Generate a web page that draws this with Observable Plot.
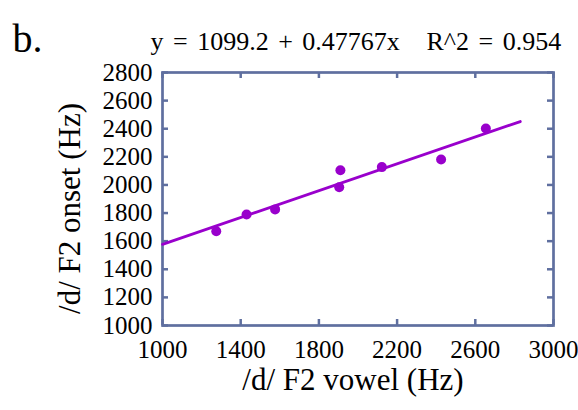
<!DOCTYPE html>
<html>
<head>
<meta charset="utf-8">
<script src="https://cdn.jsdelivr.net/npm/d3@7"></script>
<script src="https://cdn.jsdelivr.net/npm/@observablehq/plot@0.6"></script>
<style>
  html, body { margin: 0; padding: 0; background: #fff; }
  svg, svg text { font-family: "Liberation Serif", "Times New Roman", serif !important; }
</style>
</head>
<body>
<div id="chart"></div>
<script>
// Data
const vowelF2 = [1275, 1430, 1576, 1904, 1910, 2122, 2425, 2654];
const onsetF2 = [1671, 1790, 1826, 1984, 2105, 2127, 2181, 2402];
const intercept = 1099.2;
const slope = 0.47767;
const fitRange = [1000, 2830];
const xTicks = [1000, 1400, 1800, 2200, 2600, 3000];
const yTicks = [1000, 1200, 1400, 1600, 1800, 2000, 2200, 2400, 2600, 2800];
const panelLabel = "b.";
const eqText = "y = 1099.2 + 0.47767x";
const r2Text = "R^2 = 0.954";
const xLabel = "/d/ F2 vowel (Hz)";
const yLabel = "/d/ F2 onset (Hz)";

const points = vowelF2.map((x, i) => ({x, y: onsetF2[i]}));
const fit = fitRange.map(x => ({x, y: intercept + slope * x}));

const purple = "#9900cc";
const frameColor = "#5f6f9f";
const serif = "Liberation Serif, Times New Roman, serif";
const W = 578, H = 410;
const mL = 162, mR = 25, mT = 72, mB = 85;
const innerH = H - mT - mB, innerW = W - mL - mR;
const tickLen = 6;

const plot = Plot.plot({
  width: W,
  height: H,
  marginLeft: mL,
  marginRight: mR,
  marginTop: mT,
  marginBottom: mB,
  style: {fontFamily: serif, color: "#000", background: "#fff"},
  x: {domain: [1000, 3000], ticks: xTicks, label: null, tickFormat: "d"},
  y: {domain: [1000, 2800], ticks: yTicks, label: null, tickFormat: "d"},
  marks: [
    // inward ticks
    Plot.ruleX(xTicks, {stroke: frameColor, strokeWidth: 2.5, insetTop: innerH - tickLen}),
    Plot.ruleX(xTicks, {stroke: frameColor, strokeWidth: 2.5, insetBottom: innerH - tickLen}),
    Plot.ruleY(yTicks, {stroke: frameColor, strokeWidth: 2.5, insetRight: innerW - tickLen}),
    Plot.ruleY(yTicks, {stroke: frameColor, strokeWidth: 2.5, insetLeft: innerW - tickLen}),
    Plot.axisX(xTicks, {anchor: "bottom", tickSize: 0, tickPadding: 15, fontSize: 25, fontFamily: serif, fill: "#000", tickFormat: "d", label: null}),
    Plot.axisY(yTicks, {anchor: "left", tickSize: 0, tickPadding: 10, fontSize: 25, fontFamily: serif, fill: "#000", tickFormat: "d", label: null}),
    Plot.frame({stroke: frameColor, strokeWidth: 2.7}),
    Plot.line(fit, {x: "x", y: "y", stroke: purple, strokeWidth: 2.8}),
    Plot.dot(points, {x: "x", y: "y", r: 5, fill: purple}),
    // annotations
    Plot.text([panelLabel], {frameAnchor: "top-left", text: d => d, textAnchor: "start", fontSize: 40, fontFamily: serif, dx: -150, dy: -49, fill: "#000"}),
    Plot.text([eqText], {frameAnchor: "top-left", text: d => d, textAnchor: "start", fontSize: 26, fontFamily: serif, dx: -12, dy: -41, fill: "#000", className: "eq"}),
    Plot.text([r2Text], {frameAnchor: "top-left", text: d => d, textAnchor: "start", fontSize: 26, fontFamily: serif, dx: 264, dy: -41, fill: "#000", className: "eq"}),
    Plot.text([xLabel], {frameAnchor: "bottom", text: d => d, fontSize: 31, fontFamily: serif, dx: -5, dy: 64, fill: "#000"})
  ]
});
d3.select(plot).selectAll("g.eq text").style("word-spacing", "3px");
// rotated y-axis title
d3.select(plot).append("text")
  .attr("transform", `translate(${mL - 92},${(mT + H - mB) / 2 + 10}) rotate(-90)`)
  .attr("text-anchor", "middle")
  .attr("dy", "0.32em")
  .attr("font-size", 31)
  .attr("fill", "#000")
  .text(yLabel);
document.getElementById("chart").appendChild(plot);
</script>
</body>
</html>
